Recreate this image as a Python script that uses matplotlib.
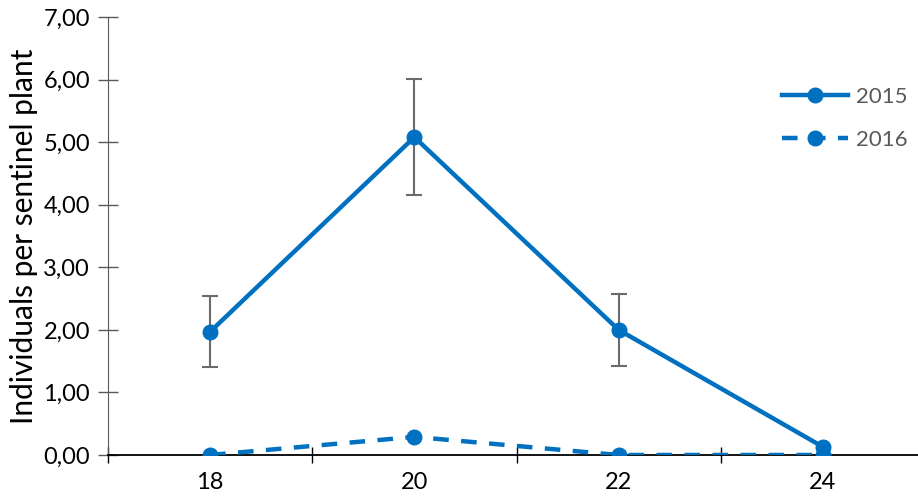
import matplotlib.pyplot as plt
from matplotlib.ticker import FuncFormatter, FixedLocator

plt.rcParams['font.family'] = ['Lato', 'DejaVu Sans']

# data
categories = ["18", "20", "22", "24"]
y2015 = [1.97, 5.08, 2.00, 0.13]
err2015 = [0.57, 0.93, 0.58, 0.0]
y2016 = [0.0, 0.29, 0.0, 0.0]
series_labels = ["2015", "2016"]

blue = "#0070C0"
grey = "#595959"

fig = plt.figure(figsize=(9.18, 4.97), dpi=100)
ax = fig.add_axes([108 / 918, 42 / 497, 817 / 918, 438 / 497])

x = list(range(len(categories)))

ax.errorbar(x[:3], y2015[:3], yerr=err2015[:3], fmt="none", ecolor="#6b6b6b",
            elinewidth=1.5, capsize=5.5, capthick=1.5, zorder=2)
ax.plot(x, y2015, color=blue, lw=3.2, marker="o", ms=10.5,
        label=series_labels[0], zorder=3)
ax.plot(x, y2016, color=blue, lw=3.2, marker="o", ms=10.5,
        dashes=(3.5, 2.8), label=series_labels[1], zorder=3)

ax.set_xlim(-0.5, 3.5)
ax.set_ylim(0, 7)
ax.set_xticks(x)
ax.set_xticklabels(categories)
ax.xaxis.set_minor_locator(FixedLocator([-0.5, 0.5, 1.5, 2.5]))
ax.tick_params(axis="x", which="major", length=0, pad=12, labelsize=17)
ax.tick_params(axis="x", which="minor", direction="inout", length=11,
               width=1, color="black")
ax.set_yticks(range(8))
ax.yaxis.set_major_formatter(FuncFormatter(lambda v, p: f"{v:.2f}".replace(".", ",")))
ax.tick_params(axis="y", direction="inout", length=14, width=1, color=grey,
               labelsize=17, pad=6)

for s in ["top", "right"]:
    ax.spines[s].set_visible(False)
ax.spines["left"].set_color(grey)
ax.spines["bottom"].set_color("black")
ax.spines["bottom"].set_linewidth(1.3)

ax.set_ylabel("Individuals per sentinel plant", fontsize=21.5, labelpad=4)

leg = ax.legend(loc="upper left", bbox_to_anchor=(0.80, 0.886), frameon=False,
                fontsize=16, handlelength=3.0, labelspacing=1.05,
                handletextpad=0.35)
for t in leg.get_texts():
    t.set_color(grey)

fig.savefig("out.png", dpi=100)
